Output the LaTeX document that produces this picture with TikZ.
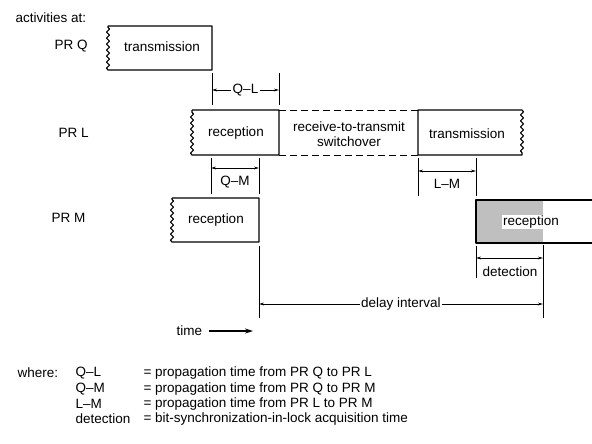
\documentclass[tikz,border=0pt]{standalone}
\usepackage{fontspec}
\setmainfont{Liberation Sans}
\usepackage{tikz}
\usetikzlibrary{arrows.meta, decorations.pathmorphing, positioning}
\tikzstyle{dimarrow} = [line width=0.7pt,{Stealth[length=5pt,width=2.8pt]}-{Stealth[length=5pt,width=2.8pt]}]
\tikzstyle{limit} = [line width=0.8pt]
\tikzstyle{boxline} = [line width=1.2pt,line join=round]
\tikzstyle{wavy} = [decoration={snake,amplitude=1.5pt,segment length=6pt}]
\tikzstyle{dimlabel} = [fill=white,inner sep=1.5pt]

\begin{document}
\begin{tikzpicture}[x=1pt,y=-1pt,font=\fontsize{13.5}{15.5}\selectfont]
\useasboundingbox (0,0) rectangle (592,444);

% Station labels
\node[anchor=west] (act) at (12,18) {activities at:};
\node[anchor=west] (prq) at (51,46) {PR Q};
\node[anchor=west] (prl) at (55,133) {PR L};
\node[anchor=west] (prm) at (48,218) {PR M};

% PR Q: transmission
\draw[boxline,wavy] (108,26) -- (212,26) -- (212,70) -- (108,70) decorate {-- (108,26)};
\node (qtx) at (162,47) {transmission};

% PR L: reception, switchover, transmission
\draw[boxline,wavy] (192,110) -- (279,110) -- (279,155) -- (192,155) decorate {-- (192,110)};
\node (lrx) at (236,133) {reception};
\draw[line width=0.9pt,dash pattern=on 7pt off 4pt] (279,110) -- (418,110);
\draw[line width=0.9pt,dash pattern=on 7pt off 4pt] (279,155) -- (418,155);
\node[align=center] (lsw) at (349,134) {receive-to-transmit\\switchover};
\draw[boxline,wavy] (418,155) -- (418,110) -- (522,110) decorate {-- (522,155)} -- (418,155);
\node (ltx) at (467,134) {transmission};

% PR M: reception, reception with detection
\draw[boxline,wavy] (172,198) -- (259,198) -- (259,242) -- (172,242) decorate {-- (172,198)};
\node (mrx) at (216,220) {reception};
\fill[black!25] (476,200) rectangle (543,243);
\draw[boxline] (592,200) -- (476,200) -- (476,243) -- (592,243);
\node[fill=white,inner sep=1pt] (mrx2) at (531,222) {reception};

% Q-L
\draw[limit] (212,73) -- (212,105);
\draw[limit] (279,73) -- (279,105);
\coordinate (qla) at (212,90);
\coordinate (qlb) at (279,90);
\draw[dimarrow] (qla) -- (qlb) node[midway,dimlabel] (ql) {Q--L};

% Q-M
\draw[limit] (211,158) -- (211,194);
\draw[limit] (259,158) -- (259,194);
\coordinate (qma) at (211,168);
\coordinate (qmb) at (259,168);
\draw[dimarrow] (qma) -- (qmb);
\node (qm) at (235,182) {Q--M};

% L-M
\draw[limit] (418,158) -- (418,196);
\draw[limit] (476,158) -- (476,196);
\coordinate (lma) at (418,171);
\coordinate (lmb) at (476,171);
\draw[dimarrow] (lma) -- (lmb);
\node (lm) at (447,184) {L--M};

% detection
\draw[limit] (476,246) -- (476,278);
\draw[limit] (543,245) -- (543,318);
\coordinate (dta) at (476,258);
\coordinate (dtb) at (543,258);
\draw[dimarrow] (dta) -- (dtb);
\node (dt) at (510,272) {detection};

% delay interval
\draw[limit] (259,246) -- (259,318);
\coordinate (dia) at (259,304);
\coordinate (dib) at (543,304);
\draw[dimarrow] (dia) -- (dib) node[midway,dimlabel] (di) {delay interval};

% time
\node[anchor=west] (time) at (173,331) {time};
\coordinate (timeend) at (253,331);
\draw[line width=1.2pt,-{Stealth[length=8pt,width=5pt]}] (time.east) ++(3,0) -- (timeend);

% Legend
\node[anchor=west] (where) at (14,373) {where:};
\node[anchor=west] (kql) at (72,373) {Q--L};
\node[anchor=west] (kqm) at (72,389) {Q--M};
\node[anchor=west] (klm) at (72,404) {L--M};
\node[anchor=west] (kdt) at (72,419) {detection};
\node[anchor=west] (vql) at (140,373) {= propagation time from PR Q to PR L};
\node[anchor=west] (vqm) at (140,389) {= propagation time from PR Q to PR M};
\node[anchor=west] (vlm) at (140,404) {= propagation time from PR L to PR M};
\node[anchor=west] (vdt) at (140,419) {= bit-synchronization-in-lock acquisition time};
\end{tikzpicture}
\end{document}
